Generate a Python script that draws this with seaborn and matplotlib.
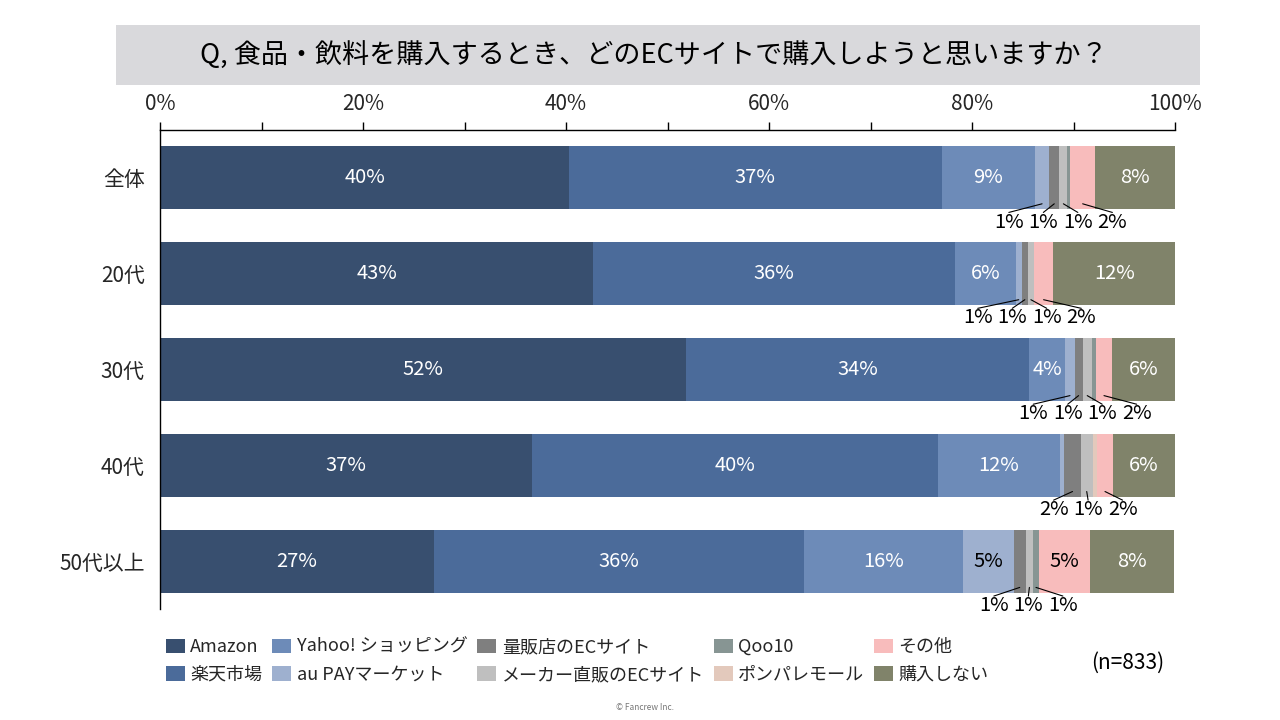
import pandas as pd
import numpy as np
import seaborn as sns
import matplotlib.pyplot as plt
from matplotlib.patches import Patch, Rectangle

# Data (percent)
groups = ['全体', '20代', '30代', '40代', '50代以上']
sites = ['Amazon', '楽天市場', 'Yahoo! ショッピング', 'au PAYマーケット', '量販店のECサイト',
         'メーカー直販のECサイト', 'Qoo10', 'ポンパレモール', 'その他', '購入しない']
amazon = [40.3, 42.7, 51.8, 36.6, 27.0]
rakuten = [36.7, 35.6, 33.8, 40.0, 36.4]
yahoo = [9.2, 6.0, 3.6, 12.1, 15.7]
aupay = [1.4, 0.6, 0.9, 0.4, 5.0]
ryohan = [1.0, 0.6, 0.8, 1.6, 1.2]
maker = [0.8, 0.6, 0.9, 1.2, 0.7]
qoo10 = [0.3, 0.0, 0.4, 0.0, 0.6]
ponpare = [0.0, 0.0, 0.0, 0.4, 0.0]
other = [2.4, 1.9, 1.6, 1.6, 5.0]
none_ = [7.9, 12.0, 6.2, 6.1, 8.3]
n_label = '(n=833)'

colors = ['#384f6f', '#4b6b9a', '#6d8bb8', '#9eb0cf', '#7f7f7f',
          '#bfbfbf', '#879593', '#e3c9bc', '#f8bcbc', '#80836a']
dark_text = ['au PAYマーケット', 'その他']

df = pd.DataFrame({'group': groups, 'Amazon': amazon, '楽天市場': rakuten,
                   'Yahoo! ショッピング': yahoo, 'au PAYマーケット': aupay,
                   '量販店のECサイト': ryohan, 'メーカー直販のECサイト': maker,
                   'Qoo10': qoo10, 'ポンパレモール': ponpare, 'その他': other,
                   '購入しない': none_})

sns.set_theme(style='white')
plt.rcParams['font.family'] = ['Noto Sans CJK JP', 'DejaVu Sans']

fig = plt.figure(figsize=(12.8, 7.2), dpi=100)
ax = fig.add_axes([0.125, 0.1535, 0.793, 0.666])

# Stacked bars: draw cumulative totals from the last series back to the first
cum = df[sites].cumsum(axis=1)
bar_h = 0.656
for site, col in reversed(list(zip(sites, colors))):
    sns.barplot(x=cum[site], y=df['group'], order=groups, orient='h',
                color=col, width=bar_h, saturation=1, ax=ax, edgecolor='none')

ax.set_xlim(0, 100)
ax.set_ylim(4.5, -0.5)
ax.set_xlabel('')
ax.set_ylabel('')

# Axis on top
ax.xaxis.set_ticks_position('top')
ax.xaxis.set_label_position('top')
ax.set_xticks(np.arange(0, 101, 20))
ax.set_xticks(np.arange(10, 100, 20), minor=True)
ax.set_xticklabels([f'{t}%' for t in range(0, 101, 20)], fontsize=15)
ax.tick_params(axis='x', which='both', direction='out', length=6, width=1,
               color='black', pad=5, top=True, bottom=False)
ax.tick_params(axis='y', length=0, pad=11, labelsize=15)
for s in ['right', 'bottom']:
    ax.spines[s].set_visible(False)
for s in ['top', 'left']:
    ax.spines[s].set_color('black')
    ax.spines[s].set_linewidth(1)

# Value labels
step = 3.4
for i, g in enumerate(groups):
    left = 0
    small = []
    for site in sites:
        v = df.loc[i, site]
        mid = left + v / 2
        if v >= 3:
            tc = 'black' if site in dark_text else 'white'
            ax.text(mid, i, f'{v:.0f}%', ha='center', va='center',
                    fontsize=14.5, color=tc)
        elif v >= 0.5:
            small.append((mid, v))
        left += v
    if small:
        centre = np.mean([m for m, _ in small])
        k = len(small)
        for j, (m, v) in enumerate(small):
            lx = centre + (j - (k - 1) / 2) * step
            ax.plot([m, lx], [i + 0.27, i + 0.36], color='black', lw=0.8)
            ax.text(lx, i + 0.46, f'{v:.0f}%', ha='center', va='center',
                    fontsize=14.5, color='black')

# Title box
fig.patches.append(Rectangle((116 / 1280, 1 - 85 / 720), 1084 / 1280, 60 / 720,
                             transform=fig.transFigure, facecolor='#d9d9dc',
                             edgecolor='none', zorder=0))
fig.text(654 / 1280, 1 - 55 / 720,
         'Q, 食品・飲料を購入するとき、どのECサイトで購入しようと思いますか？',
         ha='center', va='center', fontsize=19.5, color='black')

# Legend
handles = [Patch(facecolor=c, edgecolor='none') for c in colors]
fig.legend(handles, sites, ncol=5, loc='upper left',
           bbox_to_anchor=(166 / 1280, 1 - 638 / 720), frameon=False,
           fontsize=13, handlelength=1.05, handleheight=0.85, handletextpad=0.3,
           columnspacing=0.55, labelspacing=0.55, borderpad=0, borderaxespad=0)

fig.text(1128 / 1280, 1 - 663 / 720, n_label, ha='center', va='center',
         fontsize=15, color='black')
fig.text(645 / 1280, 1 - 707 / 720, '© Fancrew Inc.', ha='center', va='center',
         fontsize=6, color='#777777')

fig.savefig('out.png', dpi=100)
